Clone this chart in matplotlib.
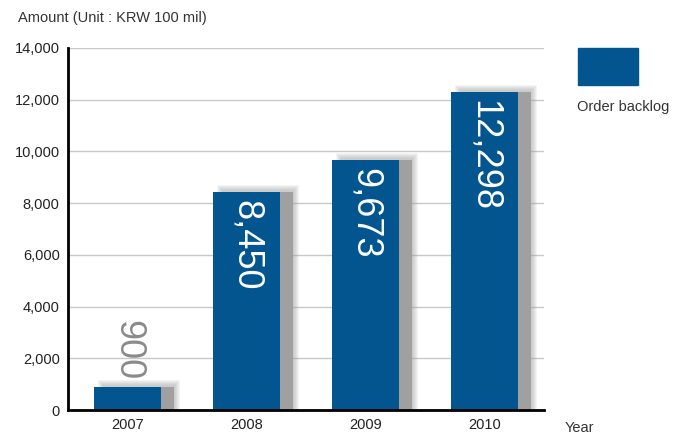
import numpy as np
import matplotlib.pyplot as plt
from matplotlib.patches import Rectangle

plt.rcParams['font.family'] = ['Liberation Sans', 'DejaVu Sans']

# data
years = ['2007', '2008', '2009', '2010']
backlog = [900, 8450, 9673, 12298]
value_labels = ['900', '8,450', '9,673', '12,298']
y_ticks = [0, 2000, 4000, 6000, 8000, 10000, 12000, 14000]

bar_color = '#03558f'
W, H = 679, 437

fig = plt.figure(figsize=(W / 100, H / 100), dpi=100)
ax = fig.add_axes([68 / W, 27 / H, 476 / W, 362 / H])

x = np.arange(len(years))
width = 67 / 119
px_x = 1 / 119            # one pixel in x data units
px_y = 14000 / 362        # one pixel in y data units

# soft shadow behind each bar
for xi, v in zip(x, backlog):
    left = xi - width / 2 + 10 * px_x
    right = xi + width / 2 + 13 * px_x
    for k in range(6, 0, -1):
        ax.add_patch(Rectangle((left - k * px_x, 0), right - left + 2 * k * px_x,
                               v + (1 + k) * px_y, color='#9a9a9a', alpha=0.1,
                               lw=0, zorder=1))
    ax.add_patch(Rectangle((left, 0), right - left, v, color='#a0a0a0', lw=0, zorder=1))

ax.bar(x, backlog, width=width, color=bar_color, zorder=2)

# value labels, rotated
for xi, v, lab in zip(x, backlog, value_labels):
    if v < 2000:
        ax.text(xi, v + 7 * px_y, lab, rotation=-90, ha='center', va='bottom',
                fontsize=26, color='#8a8a8a', zorder=3)
    else:
        ax.text(xi, v - 8 * px_y, lab, rotation=-90, ha='center', va='top',
                fontsize=26, color='white', zorder=3)

ax.set_xlim(-0.5, 3.5)
ax.set_ylim(0, 14000)
ax.set_yticks(y_ticks)
ax.set_yticklabels([f'{t:,}' for t in y_ticks], fontsize=10.5, color='#222222')
ax.set_xticks(x)
ax.set_xticklabels(years, fontsize=10.5, color='#222222')
ax.tick_params(axis='both', length=0, pad=6)
ax.grid(axis='y', color='#c8c8c8', lw=1, zorder=0)
ax.set_axisbelow(True)
for s in ['top', 'right']:
    ax.spines[s].set_visible(False)
for s in ['left', 'bottom']:
    ax.spines[s].set_linewidth(2)
    ax.spines[s].set_color('black')
    ax.spines[s].set_zorder(4)

fig.text(18 / W, 1 - 18 / H, 'Amount (Unit : KRW 100 mil)', fontsize=10.5,
         color='#333333', va='center', ha='left')
fig.text(565 / W, 1 - 428 / H, 'Year', fontsize=10.5, color='#333333',
         va='center', ha='left')

# legend
fig.patches.append(Rectangle((578 / W, 1 - 85 / H), 60 / W, 37 / H,
                             transform=fig.transFigure, color=bar_color))
fig.text(577 / W, 1 - 107 / H, 'Order backlog', fontsize=10.5, color='#333333',
         va='center', ha='left')

fig.savefig('out.png', dpi=100)
